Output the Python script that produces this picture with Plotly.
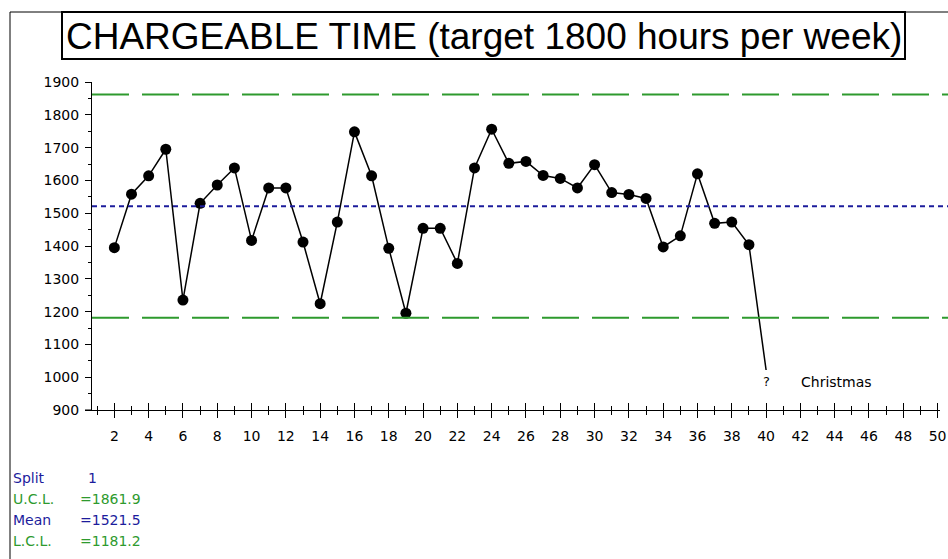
import plotly.graph_objects as go

# ---- data ----
weeks = list(range(2, 41))
hours = [1395, 1558, 1614, 1695, 1235, 1530, 1586, 1638, 1417, 1577,
         1577, 1412, 1224, 1473, 1748, 1614, 1393, 1195, 1454, 1454,
         1347, 1638, 1756, 1652, 1658, 1615, 1606, 1577, 1648, 1563,
         1557, 1545, 1397, 1431, 1620, 1469, 1473, 1404, 1022]
ucl = 1861.9
mean = 1521.5
lcl = 1181.2
split = 1
title_text = "CHARGEABLE TIME (target 1800 hours per week)"
x_ticks = list(range(2, 51, 2))
y_ticks = list(range(900, 2000, 100))

# ---- geometry (pixels) ----
W, H = 948, 559
L, R, T, B = 92, 8, 82, 149
PW = W - L - R
PH = H - T - B


def px(xp):
    return (xp - L) / PW


def py(yp):
    return (H - B - yp) / PH


BLUE = "#1c1c9c"
GREEN = "#2e9a2e"
FONT = "DejaVu Sans"

marker_sizes = [11] * (len(hours) - 1) + [0]

fig = go.Figure()
fig.add_trace(go.Scatter(
    x=weeks, y=hours, mode="lines+markers",
    line=dict(color="black", width=1.5),
    marker=dict(color="#000000", size=marker_sizes, opacity=1,
                line=dict(width=0)),
    showlegend=False, hoverinfo="x+y"))
# invisible trace to create the overlay axis (inside ticks)
fig.add_trace(go.Scatter(x=weeks, y=hours, xaxis="x2", mode="markers",
                         marker=dict(opacity=0), showlegend=False,
                         hoverinfo="skip"))

xr = [0.697, 50.14]
fig.update_layout(
    template="none",
    width=W, height=H,
    margin=dict(l=L, r=R, t=T, b=B, pad=0, autoexpand=False),
    plot_bgcolor="white", paper_bgcolor="white",
    font=dict(family=FONT, size=14, color="black"),
    hovermode="closest",
    xaxis=dict(range=xr, tickvals=x_ticks, ticktext=[str(v) for v in x_ticks],
               ticks="outside", ticklen=7, tickwidth=1, tickcolor="black",
               minor=dict(dtick=1, tick0=1, ticks="outside", ticklen=4,
                          tickcolor="black", tickwidth=1, showgrid=False),
               showline=True, linecolor="black", linewidth=1,
               showgrid=False, zeroline=False, automargin=False,
               tickfont=dict(family=FONT, size=14, color="black"),
               ticklabelstandoff=6),
    xaxis2=dict(range=xr, overlaying="x", anchor="y", side="bottom",
                tickvals=x_ticks, showticklabels=False,
                ticks="inside", ticklen=7, tickwidth=1, tickcolor="black",
                minor=dict(dtick=1, tick0=1, ticks="inside", ticklen=4,
                           tickcolor="black", tickwidth=1, showgrid=False),
                showline=False, showgrid=False, zeroline=False,
                automargin=False),
    yaxis=dict(range=[900, 1900], tickvals=y_ticks,
               ticks="outside", ticklen=6, tickwidth=1, tickcolor="black",
               minor=dict(dtick=50, tick0=900, ticks="outside", ticklen=3,
                          tickcolor="black", tickwidth=1, showgrid=False),
               showline=True, linecolor="black", linewidth=1,
               showgrid=False, zeroline=False, automargin=False,
               tickfont=dict(family=FONT, size=14, color="black"),
               ticklabelstandoff=3),
)

shapes = []
# control lines
shapes.append(dict(type="line", xref="paper", yref="y", x0=0, x1=1.01,
                   y0=ucl, y1=ucl, line=dict(color=GREEN, width=2, dash="37px,13px")))
shapes.append(dict(type="line", xref="paper", yref="y", x0=0, x1=1.01,
                   y0=lcl, y1=lcl, line=dict(color=GREEN, width=2, dash="37px,13px")))
shapes.append(dict(type="line", xref="paper", yref="y", x0=0, x1=1.01,
                   y0=mean, y1=mean, line=dict(color=BLUE, width=2, dash="5px,4px")))
# x axis extension left of y axis
shapes.append(dict(type="line", xref="paper", yref="paper", x0=px(85), x1=0,
                   y0=0, y1=0, line=dict(color="black", width=1)))
# outer frame
shapes.append(dict(type="line", xref="paper", yref="paper", x0=px(10), x1=px(10),
                   y0=py(12), y1=py(570), line=dict(color="black", width=1)))
shapes.append(dict(type="line", xref="paper", yref="paper", x0=px(10), x1=px(960),
                   y0=py(12), y1=py(12), line=dict(color="black", width=1)))
# title box
shapes.append(dict(type="rect", xref="paper", yref="paper", x0=px(62), x1=px(905),
                   y0=py(59), y1=py(12), fillcolor="white",
                   line=dict(color="black", width=2), layer="above"))
fig.update_layout(shapes=shapes)

ann = []
ann.append(dict(xref="paper", yref="paper", x=px(483.5), y=py(36),
                text=title_text, showarrow=False, xanchor="center", yanchor="middle",
                font=dict(family="Liberation Sans", size=37, color="black")))
ann.append(dict(x=weeks[-1], y=hours[-1], xref="x", yref="y", text="?",
                showarrow=False, xanchor="center", yanchor="top", yshift=-2,
                font=dict(family=FONT, size=13, color="black")))
ann.append(dict(x=41.9, y=985, xref="x", yref="y", text="Christmas",
                showarrow=False, xanchor="left", yanchor="middle",
                font=dict(family=FONT, size=14, color="black")))

stats = [("Split", f"{split}", BLUE, 478, 86),
         ("U.C.L.", f"={ucl:.1f}", GREEN, 499, 78),
         ("Mean", f"={mean:.1f}", BLUE, 520, 78),
         ("L.C.L.", f"={lcl:.1f}", GREEN, 541, 78)]
for label, val, col, yp, xv in stats:
    ann.append(dict(xref="paper", yref="paper", x=px(11), y=py(yp), text=label,
                    showarrow=False, xanchor="left", yanchor="middle",
                    font=dict(family=FONT, size=14, color=col)))
    ann.append(dict(xref="paper", yref="paper", x=px(xv), y=py(yp), text=val,
                    showarrow=False, xanchor="left", yanchor="middle",
                    font=dict(family=FONT, size=14, color=col)))
fig.update_layout(annotations=ann)

fig.write_html("out.html",
               config={"displayModeBar": False},
               post_script="document.body.style.margin='0';"
                           "document.body.style.overflow='hidden';")
